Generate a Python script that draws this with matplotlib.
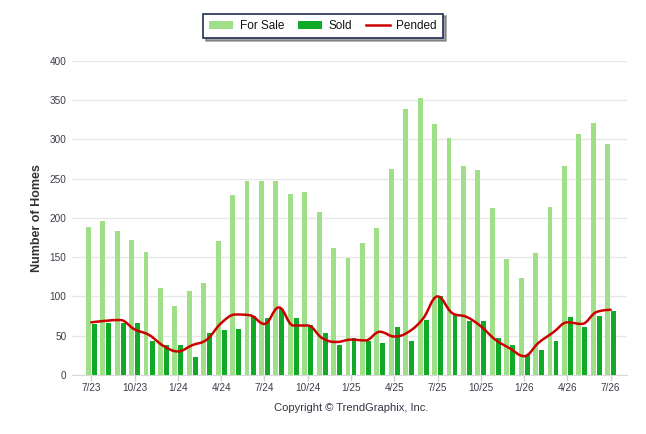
import matplotlib
matplotlib.use("Agg")
import matplotlib.pyplot as plt
from matplotlib.path import Path
from matplotlib.patches import PathPatch, Patch
from matplotlib.lines import Line2D
import numpy as np

plt.rcParams["font.family"] = ["Liberation Sans", "DejaVu Sans"]

months = ["7/23","8/23","9/23","10/23","11/23","12/23","1/24","2/24","3/24","4/24","5/24","6/24",
          "7/24","8/24","9/24","10/24","11/24","12/24","1/25","2/25","3/25","4/25","5/25","6/25",
          "7/25","8/25","9/25","10/25","11/25","12/25","1/26","2/26","3/26","4/26","5/26","6/26","7/26"]

for_sale = [188, 196, 183, 172, 156, 111, 88, 107, 117, 171, 229, 247,
            247, 247, 230, 233, 207, 162, 149, 168, 187, 262, 339, 352,
            319, 301, 266, 261, 213, 147, 124, 155, 214, 266, 307, 321, 294]

sold = [65, 66, 66, 66, 43, 38, 38, 23, 53, 57, 58, 75,
        72, 84, 72, 64, 53, 38, 47, 43, 41, 61, 43, 70,
        101, 76, 69, 69, 47, 38, 25, 32, 43, 74, 61, 75, 82]

pended = [67, 69, 70, 58, 51, 37, 30, 38, 45, 66, 77, 76,
          65, 86, 63, 63, 47, 42, 45, 44, 55, 49, 55, 72,
          100, 79, 74, 62, 45, 34, 24, 41, 54, 67, 65, 80, 83]

tick_labels = ["7/23","10/23","1/24","4/24","7/24","10/24","1/25","4/25","7/25","10/25","1/26","4/26","7/26"]

C_FS = "#9fdf87"
C_SOLD = "#10aa28"
C_PEND = "#cc0000"
TXT = "#3d3d4a"


def spline_path(xs, ys, smoothing=1.5):
    denom = smoothing + 1
    n = len(xs)
    lc = [None] * n
    rc = [None] * n
    for i in range(1, n - 1):
        px, py = xs[i], ys[i]
        lx, ly = xs[i - 1], ys[i - 1]
        nx, ny = xs[i + 1], ys[i + 1]
        lcx = (smoothing * px + lx) / denom
        lcy = (smoothing * py + ly) / denom
        rcx = (smoothing * px + nx) / denom
        rcy = (smoothing * py + ny) / denom
        corr = ((rcy - lcy) * (rcx - px)) / (rcx - lcx) + py - rcy
        lcy += corr
        rcy += corr
        if lcy > max(ly, py):
            lcy = max(ly, py)
            rcy = 2 * py - lcy
        elif lcy < min(ly, py):
            lcy = min(ly, py)
            rcy = 2 * py - lcy
        if rcy > max(py, ny):
            rcy = max(py, ny)
            lcy = 2 * py - rcy
        elif rcy < min(py, ny):
            rcy = min(py, ny)
            lcy = 2 * py - rcy
        lc[i] = (lcx, lcy)
        rc[i] = (rcx, rcy)
    verts = [(xs[0], ys[0])]
    codes = [Path.MOVETO]
    for i in range(1, n):
        c1 = rc[i - 1] if rc[i - 1] is not None else (xs[i - 1], ys[i - 1])
        c2 = lc[i] if lc[i] is not None else (xs[i], ys[i])
        verts += [c1, c2, (xs[i], ys[i])]
        codes += [Path.CURVE4] * 3
    return Path(verts, codes)


fig = plt.figure(figsize=(6.46, 4.34), dpi=100)
ax = fig.add_axes([72 / 646, 1 - 375 / 434, (627 - 72) / 646, (375 - 60.7) / 434])

x = np.arange(len(months))
w = 0.34
ax.bar(x - 0.21, for_sale, width=w, color=C_FS, zorder=2)
ax.bar(x + 0.21, sold, width=w, color=C_SOLD, zorder=2)

p = spline_path(list(x.astype(float)), [float(v) for v in pended])
ax.add_patch(PathPatch(p, facecolor="none", edgecolor=C_PEND, lw=1.8, zorder=3,
                       capstyle="round", joinstyle="round"))

ax.set_xlim(-1.34, len(months) - 1 + 1.13)
ax.set_ylim(0, 400)
ax.set_yticks(range(0, 401, 50))
ax.grid(axis="y", color="#e8e8e8", lw=1, zorder=0)
ax.set_axisbelow(True)
for s in ["left", "right", "top"]:
    ax.spines[s].set_visible(False)
ax.spines["bottom"].set_color("#d8d8d8")
ax.spines["bottom"].set_zorder(1)

tick_pos = [months.index(t) for t in tick_labels]
ax.set_xticks(tick_pos)
ax.set_xticklabels(tick_labels)
ax.tick_params(axis="x", colors="#d0d0d0", length=4, width=1, labelcolor=TXT, labelsize=7.2, pad=2)
ax.tick_params(axis="y", length=0, labelcolor=TXT, labelsize=7.2, pad=4)

fig.text(37 / 646, 1 - 218 / 434, "Number of Homes", rotation=90, ha="center", va="center",
         fontsize=9, fontweight="bold", color="#333333")
fig.text(351 / 646, 1 - 408 / 434, "Copyright \u00a9 TrendGraphix, Inc.", ha="center", va="center",
         fontsize=8, color="#333344")

handles = [Patch(facecolor=C_FS, edgecolor="none"),
           Patch(facecolor=C_SOLD, edgecolor="none"),
           Line2D([0], [0], color=C_PEND, lw=1.8)]
leg = fig.legend(handles, ["For Sale", "Sold", "Pended"], loc="center",
                 bbox_to_anchor=(323 / 646, 1 - 26 / 434), ncol=3, fontsize=8.5,
                 frameon=True, fancybox=False, shadow=True, handlelength=2.0, handleheight=0.6,
                 columnspacing=1.2, handletextpad=0.55, borderpad=0.55, borderaxespad=0.3)
fr = leg.get_frame()
fr.set_edgecolor("#1f2f55")
fr.set_linewidth(1.2)
for t in leg.get_texts():
    t.set_color("#111111")

fig.savefig("out.png", dpi=100)
